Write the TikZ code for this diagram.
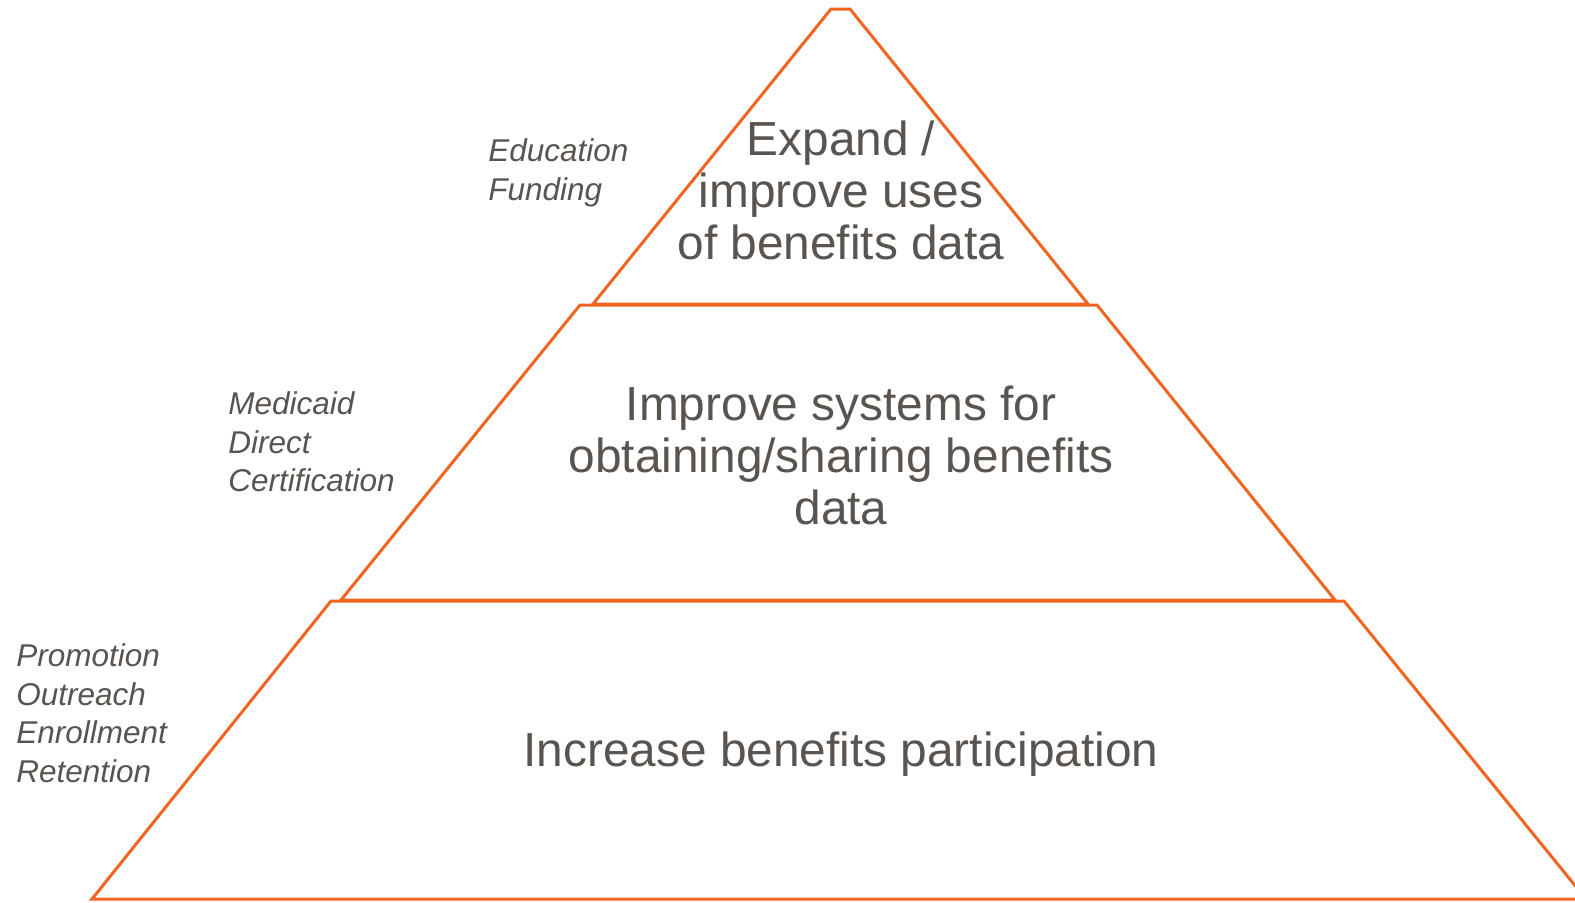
\documentclass[tikz,border=0pt]{standalone}
\usepackage{fontspec}
\setmainfont{Liberation Sans}
\usepackage{xcolor}

\definecolor{tierorange}{RGB}{240,101,34}
\definecolor{textgray}{RGB}{89,84,80}

\tikzset{
    tier/.style={draw=tierorange, line width=1.5pt, line join=miter},
    tiertext/.style={text=textgray, align=center, inner sep=0pt,
        font=\fontsize{23.9}{26}\selectfont},
    sidelabel/.style={text=textgray, align=left, anchor=west, inner sep=0pt,
        font=\fontsize{15.75}{19.25}\selectfont\itshape}
}

\begin{document}
\begin{tikzpicture}[x=0.5pt, y=-0.5pt]
        \useasboundingbox (0, 0) rectangle (1575, 902);
        % tiers, top to bottom
        \draw[tier] (831, 9) -- (850, 9) -- (1088, 304) -- (593, 304) -- cycle;
        \draw[tier] (580, 305) -- (1097, 305) -- (1335, 600) -- (341, 600) -- cycle;
        \draw[tier] (331, 601) -- (1344, 601) -- (1586, 899) -- (92, 899) -- cycle;

        \node[tiertext] (top) at (841, 190) {Expand /\\improve uses\\of benefits data};
        \node[tiertext] (mid) at (841, 455) {Improve systems for\\obtaining/sharing benefits\\data};
        \node[tiertext] (base) at (841, 754) {Increase benefits participation};

        \node[sidelabel] (edu) at (488, 173) {Education\\Funding};
        \node[sidelabel] (med) at (228, 442) {Medicaid\\Direct\\Certification};
        \node[sidelabel] (promo) at (16, 713) {Promotion\\Outreach\\Enrollment\\Retention};
    \end{tikzpicture}
\end{document}
